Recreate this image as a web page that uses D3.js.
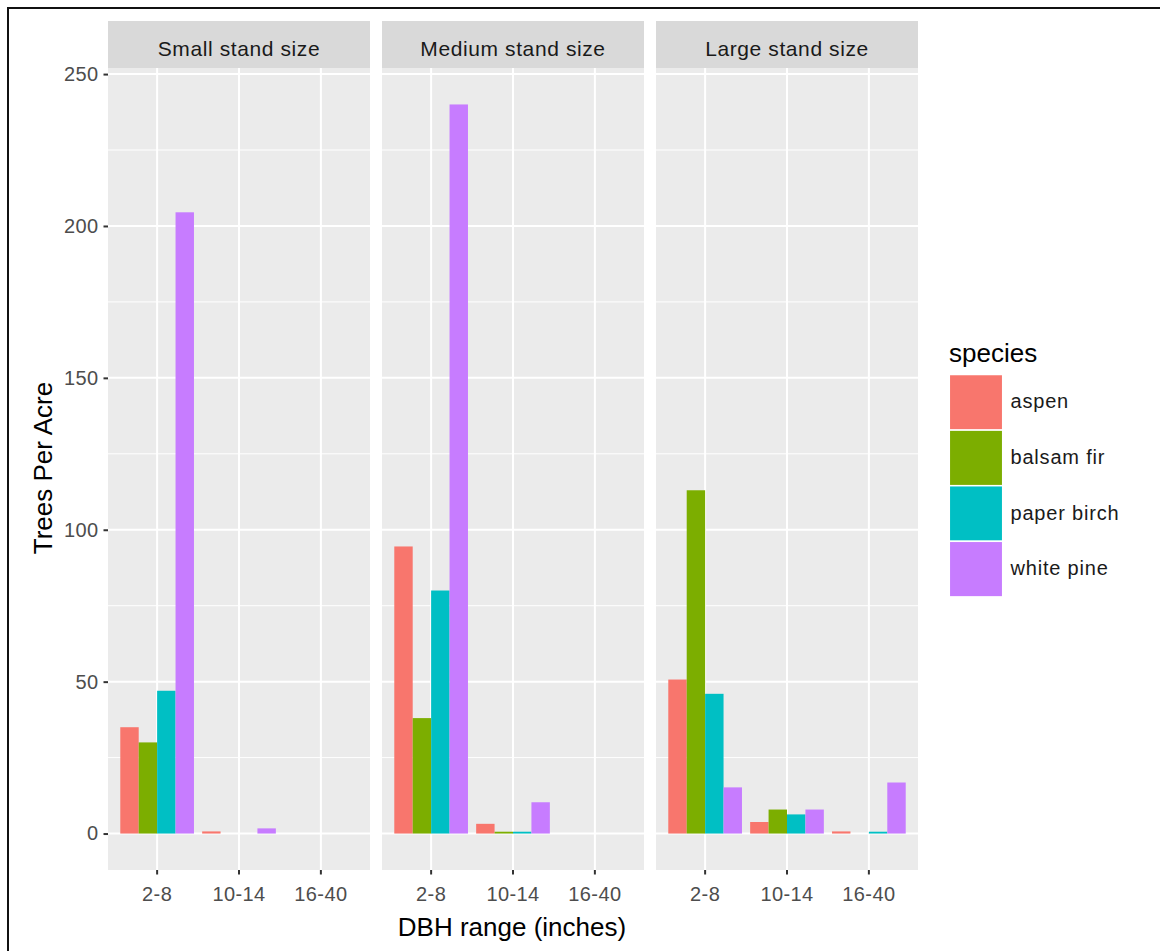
<!DOCTYPE html>
<html>
<head>
<meta charset="utf-8">
<script src="https://cdn.jsdelivr.net/npm/d3@7"></script>
<style>
  html, body { margin: 0; padding: 0; background: #fff; }
  svg { display: block; }
  text { font-family: "Liberation Sans", Arial, sans-serif; }
</style>
</head>
<body>
<svg id="chart" width="1160" height="951"></svg>
<script>
// ---- data ----
const facets = ["Small stand size", "Medium stand size", "Large stand size"];
const dbhRanges = ["2-8", "10-14", "16-40"];
const species = ["aspen", "balsam fir", "paper birch", "white pine"];
const speciesColors = ["#F8766D", "#7CAE00", "#00BFC4", "#C77CFF"];
const yTicks = [0, 50, 100, 150, 200, 250];
const yMinorTicks = [25, 75, 125, 175, 225];
// values per facet: [dbh range][species]
const smallValues = [[35, 30, 47, 204.5], [0.7, 0, 0, 1.7], [0, 0, 0, 0]];
const mediumValues = [[94.5, 38, 80, 240], [3.2, 0.6, 0.6, 10.3], [0, 0, 0, 0]];
const largeValues = [[50.7, 113, 46, 15.2], [3.8, 7.9, 6.3, 7.9], [0.7, 0, 0.6, 16.8]];
const facetValues = [smallValues, mediumValues, largeValues];

// ---- layout ----
const svg = d3.select("#chart");
const panelLeft = 108, panelW = 262, panelGap = 12;
const stripTop = 21, panelTop = 68, panelBottom = 870;

svg.append("rect").attr("x", 8).attr("y", 8).attr("width", 1170).attr("height", 960)
  .attr("fill", "none").attr("stroke", "#111").attr("stroke-width", 2);

const y = d3.scaleLinear().domain([-12, 252]).range([panelBottom, panelTop]);
const color = d3.scaleOrdinal().domain(species).range(speciesColors);

facets.forEach((facet, fi) => {
  const x0 = panelLeft + fi * (panelW + panelGap);
  const g = svg.append("g").attr("transform", `translate(${x0},0)`);
  const x = d3.scaleBand().domain(dbhRanges).range([0, panelW])
    .paddingInner(0.1).paddingOuter(0.15);
  const xs = d3.scaleBand().domain(species).range([0, x.bandwidth()]);

  // strip
  g.append("rect").attr("x", 0).attr("y", stripTop).attr("width", panelW)
    .attr("height", panelTop - stripTop).attr("fill", "#D9D9D9");
  g.append("text").attr("x", panelW / 2).attr("y", 56).attr("text-anchor", "middle")
    .attr("font-size", 21).attr("letter-spacing", 0.6).attr("fill", "#1A1A1A").text(facet);

  // panel
  g.append("rect").attr("x", 0).attr("y", panelTop).attr("width", panelW)
    .attr("height", panelBottom - panelTop).attr("fill", "#EBEBEB");
  g.selectAll(".minor").data(yMinorTicks).join("line")
    .attr("x1", 0).attr("x2", panelW).attr("y1", d => y(d)).attr("y2", d => y(d))
    .attr("stroke", "#fff").attr("stroke-width", 1);
  g.selectAll(".major").data(yTicks).join("line")
    .attr("x1", 0).attr("x2", panelW).attr("y1", d => y(d)).attr("y2", d => y(d))
    .attr("stroke", "#fff").attr("stroke-width", 2);
  g.selectAll(".vmajor").data(dbhRanges).join("line")
    .attr("x1", d => x(d) + x.bandwidth() / 2).attr("x2", d => x(d) + x.bandwidth() / 2)
    .attr("y1", panelTop).attr("y2", panelBottom)
    .attr("stroke", "#fff").attr("stroke-width", 2);

  // bars
  const rows = [];
  facetValues[fi].forEach((vals, ri) => vals.forEach((v, si) => {
    rows.push({ range: dbhRanges[ri], sp: species[si], v });
  }));
  g.selectAll(".bar").data(rows.filter(d => d.v > 0)).join("rect")
    .attr("x", d => x(d.range) + xs(d.sp)).attr("width", xs.bandwidth())
    .attr("y", d => y(d.v)).attr("height", d => y(0) - y(d.v))
    .attr("fill", d => color(d.sp));

  // x axis
  const ax = g.append("g").attr("transform", `translate(0,${panelBottom})`)
    .call(d3.axisBottom(x).tickSize(4.5).tickPadding(6));
  ax.select(".domain").remove();
  ax.selectAll("line").attr("stroke", "#333").attr("stroke-width", 2);
  ax.selectAll("text").attr("font-size", 20).attr("letter-spacing", 0.4)
    .attr("fill", "#4D4D4D").attr("font-family", "Liberation Sans, Arial, sans-serif")
    .attr("dy", "1em");

  if (fi === 0) {
    const ay = svg.append("g").attr("transform", `translate(${panelLeft},0)`)
      .call(d3.axisLeft(y).tickValues(yTicks).tickSize(4.5).tickPadding(5));
    ay.select(".domain").remove();
    ay.selectAll("line").attr("stroke", "#333").attr("stroke-width", 2);
    ay.selectAll("text").attr("font-size", 20).attr("letter-spacing", 0.4)
      .attr("fill", "#4D4D4D").attr("font-family", "Liberation Sans, Arial, sans-serif");
  }
});

// axis titles
svg.append("text").attr("x", 512).attr("y", 936).attr("text-anchor", "middle")
  .attr("font-size", 26).attr("fill", "#000").text("DBH range (inches)");
svg.append("text").attr("transform", "translate(52,468) rotate(-90)")
  .attr("text-anchor", "middle").attr("font-size", 26).attr("fill", "#000").text("Trees Per Acre");

// legend
const lg = svg.append("g");
lg.append("text").attr("x", 949).attr("y", 362).attr("font-size", 26).attr("fill", "#000").text("species");
const keyH = 55.6, keyW = 53.4, keyTop = 374.5;
lg.selectAll(".key").data(species).join("rect")
  .attr("x", 949.3).attr("y", (d, i) => keyTop + i * keyH)
  .attr("width", keyW).attr("height", keyH)
  .attr("fill", d => color(d)).attr("stroke", "#fff").attr("stroke-width", 1.5);
lg.selectAll(".lab").data(species).join("text")
  .attr("x", 1010.5).attr("y", (d, i) => keyTop + i * keyH + keyH / 2 + 6)
  .attr("font-size", 20).attr("letter-spacing", 0.8).attr("fill", "#1A1A1A").text(d => d);
</script>
</body>
</html>
